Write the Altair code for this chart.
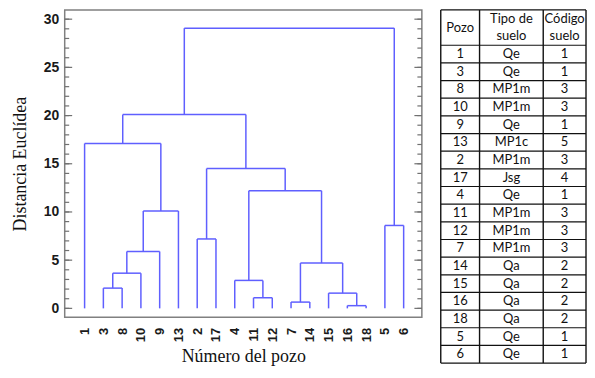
import altair as alt
import pandas as pd

# ---------------- data ----------------
leaf_labels = ["1", "3", "8", "10", "9", "13", "2", "17", "4", "11",
               "12", "7", "14", "15", "16", "18", "5", "6"]
# merges: new cluster id = len(leaf_labels) + i
merge_left = [14, 11, 9, 13, 1, 8, 22, 19, 24, 6, 16, 26, 23, 27, 0, 32, 33]
merge_right = [15, 12, 10, 18, 2, 20, 3, 21, 4, 7, 17, 5, 25, 30, 29, 31, 28]
merge_height = [0.28, 0.65, 1.1, 1.58, 2.1, 2.9, 3.65, 4.7, 5.9, 7.2,
                8.6, 10.1, 12.2, 14.5, 17.1, 20.1, 29.07]

major_ticks = [0, 5, 10, 15, 20, 25, 30]
minor_ticks = list(range(0, 31))

table_headers = ["Pozo", "Tipo de\nsuelo", "Código\nsuelo"]
pozo = ["1", "3", "8", "10", "9", "13", "2", "17", "4", "11",
        "12", "7", "14", "15", "16", "18", "5", "6"]
tipo = ["Qe", "Qe", "MP1m", "MP1m", "Qe", "MP1c", "MP1m", "Jsg", "Qe", "MP1m",
        "MP1m", "MP1m", "Qa", "Qa", "Qa", "Qa", "Qe", "Qe"]
codigo = ["1", "1", "3", "3", "1", "5", "3", "4", "1", "3",
          "3", "3", "2", "2", "2", "2", "1", "1"]

# ---------------- dendrogram segments ----------------
n = len(leaf_labels)
pos = {i: float(i) for i in range(n)}
hgt = {i: 0.0 for i in range(n)}
segs = []
for k, (a, b, h) in enumerate(zip(merge_left, merge_right, merge_height)):
    xa, xb = pos[a], pos[b]
    segs.append({"x": xa, "x2": xa, "y": hgt[a], "y2": h})
    segs.append({"x": xb, "x2": xb, "y": hgt[b], "y2": h})
    segs.append({"x": xa, "x2": xb, "y": h, "y2": h})
    pos[n + k] = (xa + xb) / 2
    hgt[n + k] = h
seg_df = pd.DataFrame(segs)

W, H = 359, 309
xscale = alt.Scale(domain=[-1.06, 17.97], nice=False, zero=False)
yscale = alt.Scale(domain=[-0.93, 30.96], nice=False, zero=False)

label_arr = "[" + ",".join("'%s'" % s for s in leaf_labels) + "]"

xaxis = alt.Axis(
    title="Número del pozo", values=list(range(n)),
    labelExpr=label_arr + "[datum.value]",
    labelAngle=270, labelFont="Liberation Sans", labelFontWeight="bold",
    labelFontSize=13, labelColor="#1a1a1a", labelPadding=10,
    ticks=False, domain=False, grid=False,
    titleFont="Liberation Serif", titleFontSize=18, titleFontWeight="normal",
    titleColor="#111", titleBaseline="alphabetic", titleY=44,
)
yaxis = alt.Axis(
    title="Distancia Euclídea", values=major_ticks,
    labelFont="Liberation Sans", labelFontWeight="bold", labelFontSize=14,
    labelColor="#1a1a1a", labelPadding=6,
    ticks=False, domain=False, grid=False,
    titleFont="Liberation Serif", titleFontSize=18, titleFontWeight="normal",
    titleColor="#111", titleX=-44, titleY=H / 2, titleAngle=270,
    titleAlign="center", titleBaseline="middle",
)

dend = alt.Chart(seg_df).mark_rule(color="#5f5fff", strokeWidth=1.5).encode(
    x=alt.X("x:Q", scale=xscale, axis=xaxis),
    x2="x2:Q",
    y=alt.Y("y:Q", scale=yscale, axis=yaxis),
    y2="y2:Q",
)

major_df = pd.DataFrame({"y": major_ticks})
minor_df = pd.DataFrame({"y": minor_ticks})
tick_color = "#707070"
ticks_layers = []
for df, ln in ((major_df, 7.5), (minor_df, 4.5)):
    ticks_layers.append(
        alt.Chart(df).mark_rule(color=tick_color, strokeWidth=1.2).encode(
            y=alt.Y("y:Q", scale=yscale, axis=yaxis),
            x=alt.value(0), x2=alt.value(ln)))
    ticks_layers.append(
        alt.Chart(df).mark_rule(color=tick_color, strokeWidth=1.2).encode(
            y=alt.Y("y:Q", scale=yscale, axis=yaxis),
            x=alt.value(W - ln), x2=alt.value(W)))

left = alt.layer(dend, *ticks_layers).properties(
    width=W, height=H,
    view=alt.ViewBackground(stroke="#808080", strokeWidth=1.5),
)

# ---------------- table ----------------
col_edges = [0, 39, 103, 146]
col_centers = [(col_edges[i] + col_edges[i + 1]) / 2 for i in range(3)]
HEADER = 2
nrows = len(pozo)
TOT = HEADER + nrows

text_rows = []
for c, hdr in enumerate(table_headers):
    lines = hdr.split("\n")
    if len(lines) == 1:
        text_rows.append({"x": col_centers[c], "y": HEADER / 2, "t": lines[0]})
    else:
        for j, ln in enumerate(lines):
            text_rows.append({"x": col_centers[c], "y": j + 0.5, "t": ln})
for r in range(nrows):
    for c, val in enumerate((pozo[r], tipo[r], codigo[r])):
        text_rows.append({"x": col_centers[c], "y": HEADER + r + 0.5, "t": val})
text_df = pd.DataFrame(text_rows)

hlines = pd.DataFrame({"y": [0] + list(range(HEADER, TOT + 1)),
                       "x": 0, "x2": col_edges[-1]})
vlines = pd.DataFrame({"x": col_edges, "y": 0, "y2": TOT})

TW, TH = col_edges[-1], 355
tx = alt.Scale(domain=[0, TW], nice=False, zero=False)
ty = alt.Scale(domain=[0, TOT], nice=False, zero=False, reverse=True)

t_text = alt.Chart(text_df).mark_text(
    font="Lato", fontSize=13, color="#111", baseline="middle", align="center"
).encode(
    x=alt.X("x:Q", scale=tx, axis=None),
    y=alt.Y("y:Q", scale=ty, axis=None),
    text="t:N",
)
t_h = alt.Chart(hlines).mark_rule(color="#111", strokeWidth=1.2).encode(
    x=alt.X("x:Q", scale=tx, axis=None), x2="x2:Q",
    y=alt.Y("y:Q", scale=ty, axis=None),
)
t_v = alt.Chart(vlines).mark_rule(color="#111", strokeWidth=1.4).encode(
    x=alt.X("x:Q", scale=tx, axis=None),
    y=alt.Y("y:Q", scale=ty, axis=None), y2="y2:Q",
)
table = alt.layer(t_h, t_v, t_text).properties(
    width=TW, height=TH, view=alt.ViewBackground(stroke=None)
)

chart = alt.hconcat(left, table, spacing=16).properties(
    padding={"left": 3, "top": 0, "right": 0, "bottom": 0},
    background="white",
).configure_view(stroke=None)

chart.save("out.html", embed_options={"renderer": "svg", "actions": False})
